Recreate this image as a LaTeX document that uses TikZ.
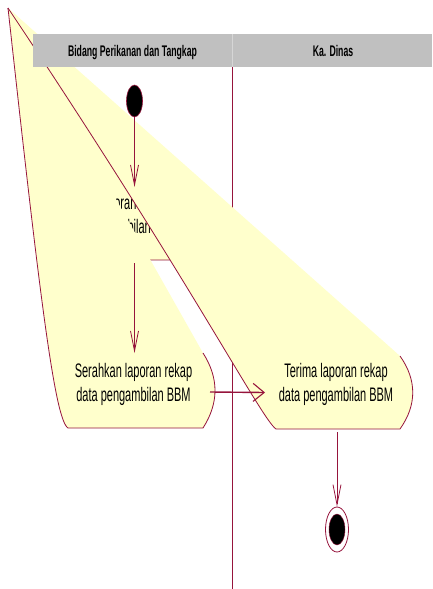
\documentclass[tikz,border=0pt]{standalone}
\usepackage{fontspec}
\setmainfont{Liberation Sans}
\usetikzlibrary{shapes.geometric,arrows.meta}
\definecolor{crim}{RGB}{150,20,60}
\definecolor{actfill}{RGB}{255,255,204}
\definecolor{hdrgray}{RGB}{192,192,192}
\definecolor{hdrline}{RGB}{214,214,214}
\newcommand\stretchtxt[1]{\scalebox{1}[1.78]{#1}}
\begin{document}
\begin{tikzpicture}[x=1pt,y=-1pt,
  shapefill/.style={fill=actfill},
  outline/.style={draw=crim,line width=0.8pt},
  lane/.style={draw=crim,line width=0.8pt},
  flow/.style={draw=crim,line width=0.8pt,-{Straight Barb[length=20pt,width=8pt,line width=0.8pt]}},
  flowwide/.style={draw=crim,line width=1.4pt,-{Straight Barb[length=11pt,width=18pt,line width=1.1pt]}},
  acttext/.style={inner sep=0pt,font=\fontsize{11}{14}\selectfont},
  hdrtext/.style={inner sep=0pt,font=\bfseries\fontsize{8.7}{10}\selectfont},
  startnode/.style={ellipse,draw=crim,fill=black,line width=0.6pt,minimum width=16pt,minimum height=32pt,inner sep=0pt},
  endring/.style={ellipse,draw=crim,line width=0.8pt,minimum width=23pt,minimum height=45pt,inner sep=0pt},
  endcore/.style={ellipse,fill=black,draw=crim,line width=0.4pt,minimum width=16pt,minimum height=31pt,inner sep=0pt}
]
\useasboundingbox (0,0) rectangle (432,589);
\fill[white] (0,0) rectangle (432,589);

% swimlane divider
\coordinate (laneTop) at (232,67);
\coordinate (laneBot) at (232,589);
\draw[lane] (laneTop) -- (laneBot);

% first activity (distorted shape)
\fill[shapefill] (8,8) -- (205,187) .. controls (221,205) and (221,242) .. (205,260) -- (70,260) .. controls (57,252) and (40,150) .. (8,8) -- cycle;
\draw[outline] (205,187) .. controls (221,205) and (221,242) .. (205,260) -- (70,260) .. controls (57,252) and (40,150) .. (8,8);
\node[acttext] (t1) at (120.5,216.5) {\stretchtxt{\begin{tabular}{@{}c@{}}Buat laporan rekap\\data pengambilan BBM\end{tabular}}};

% second activity (distorted shape)
\fill[shapefill] (8,8) -- (203,353) .. controls (219,378) and (219,403) .. (203,428) -- (68,428) .. controls (55,420) and (40,300) .. (8,8) -- cycle;
\draw[outline] (203,353) .. controls (219,378) and (219,403) .. (203,428) -- (68,428) .. controls (55,420) and (40,300) .. (8,8);
\node[acttext] (t2) at (133.5,384.5) {\stretchtxt{\begin{tabular}{@{}c@{}}Serahkan laporan rekap\\data pengambilan BBM\end{tabular}}};

% third activity (distorted shape)
\fill[shapefill] (8,8) -- (400,356) .. controls (417,380) and (417,405) .. (400,429) -- (276,429) .. controls (262,420) and (190,280) .. (8,8) -- cycle;
\draw[outline] (400,356) .. controls (417,380) and (417,405) .. (400,429) -- (276,429) .. controls (262,420) and (190,280) .. (8,8);
\node[acttext] (t3) at (336,384.5) {\stretchtxt{\begin{tabular}{@{}c@{}}Terima laporan rekap\\data pengambilan BBM\end{tabular}}};

% header
\fill[hdrgray] (33,34) rectangle (432,67);
\draw[hdrline,line width=0.8pt] (232,34) -- (232,67);
\node[hdrtext,anchor=base] (h1) at (132.5,56) {\scalebox{1}[1.77]{Bidang Perikanan dan Tangkap}};
\node[hdrtext,anchor=base] (h2) at (333,56) {\scalebox{1}[1.77]{Ka. Dinas}};

% start / end
\node[startnode] (start) at (134.5,101) {};
\node[endring] (end) at (337,529.5) {};
\node[endcore] (endc) at (337,529.5) {};

% connector anchors
\coordinate (a1top) at (134.5,187);
\coordinate (a1bot) at (134.5,263);
\coordinate (a2top) at (134.5,353);
\coordinate (a2out) at (210,392);
\coordinate (a3in) at (265,392.5);
\coordinate (a3bot) at (337,432);

\draw[flow] (start.south) -- (a1top);
\draw[flow] (a1bot) -- (a2top);
\draw[flowwide] (a2out) -- (a3in);
\draw[flow] (a3bot) -- (end.north);
\end{tikzpicture}
\end{document}
